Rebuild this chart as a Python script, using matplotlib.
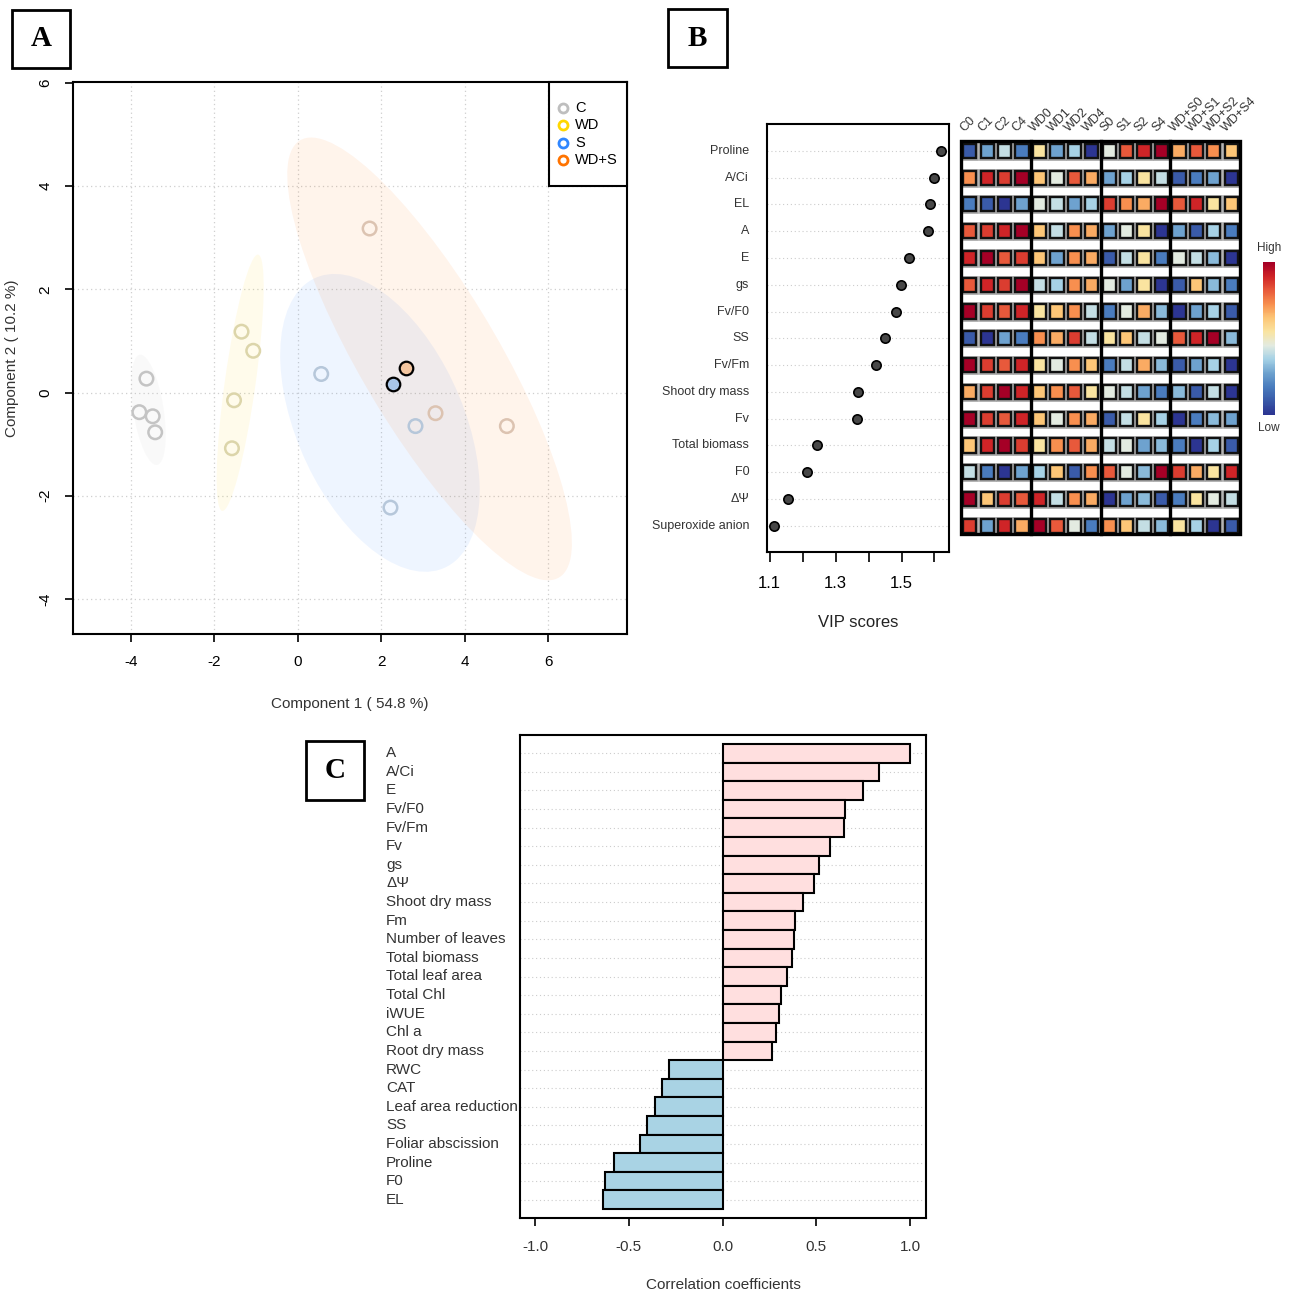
import numpy as np
import matplotlib
matplotlib.use("Agg")
import matplotlib.pyplot as plt
from matplotlib.patches import Rectangle, Ellipse
from matplotlib.lines import Line2D
from matplotlib.colors import LinearSegmentedColormap, Normalize
import matplotlib.patheffects as pe

plt.rcParams['font.family'] = ['Liberation Sans', 'DejaVu Sans']
plt.rcParams['axes.unicode_minus'] = False

# ---------------- DATA ----------------
# Panel A: PLS-DA scores
groups = ['C', 'WD', 'S', 'WD+S']
group_colors = ['#bebebe', '#ffd700', '#2f86ff', '#ff7300']
point_colors = ['#c4c4c4', '#dcd5aa', '#b6c7da', '#dcc3b1']
comp1 = {
    'C': [-3.63, -3.80, -3.48, -3.42],
    'WD': [-1.35, -1.07, -1.53, -1.58],
    'S': [0.56, 2.22, 2.27, 2.82],
    'WD+S': [1.72, 2.60, 3.30, 5.01],
}
comp2 = {
    'C': [0.27, -0.38, -0.46, -0.77],
    'WD': [1.18, 0.81, -0.15, -1.08],
    'S': [0.36, -2.23, 0.17, -0.65],
    'WD+S': [3.18, 0.48, -0.40, -0.65],
}
highlight_idx = {'S': 2, 'WD+S': 1}
highlight_fill = {'S': '#a9c6e8', 'WD+S': '#f4c6a0'}

# Panel B: VIP scores and heatmap
vip_vars = ['Proline', 'A/Ci', 'EL', 'A', 'E', 'gs', 'Fv/F0', 'SS', 'Fv/Fm',
            'Shoot dry mass', 'Fv', 'Total biomass', 'F0', 'ΔΨ', 'Superoxide anion']
vip_scores = [1.621, 1.599, 1.586, 1.579, 1.524, 1.497, 1.483, 1.451, 1.424,
              1.369, 1.365, 1.243, 1.214, 1.155, 1.113]
heat_cols = ['C0', 'C1', 'C2', 'C4', 'WD0', 'WD1', 'WD2', 'WD4',
             'S0', 'S1', 'S2', 'S4', 'WD+S0', 'WD+S1', 'WD+S2', 'WD+S4']
heat_values = [
    [1, 3, 4.5, 2, 6, 3, 4, 0, 5, 9, 10, 11, 7.5, 9, 8, 7],
    [8, 10, 9.5, 11, 7, 5, 9, 7.5, 3, 4, 6, 4.5, 1, 2, 3, 0],
    [2, 1, 0, 3, 5, 4.5, 3, 4, 9.5, 8, 7.5, 11, 9, 10, 6, 7],
    [9, 9.5, 10, 11, 7, 4.5, 8, 7.5, 3, 5, 6, 0, 3, 1, 4, 2],
    [10, 11, 9, 9.5, 7, 3, 8, 7.5, 1, 4.5, 6, 2, 5, 4.5, 3.5, 0],
    [9, 10, 9.5, 11, 4.5, 4, 8, 7.5, 5, 3, 6, 0, 1, 7, 3.5, 2],
    [11, 9.5, 9, 10, 6, 7, 8, 4.5, 2, 5, 7.5, 3.5, 0, 3, 4, 1],
    [1, 0, 3, 2, 8, 7.5, 9.5, 4.5, 6, 7, 4.5, 5, 9, 10, 11, 3.5],
    [11, 9.5, 9, 10, 6, 5, 8, 7, 2, 4.5, 7.5, 3.5, 1, 3, 4, 0],
    [7.5, 9.5, 11, 10, 7, 8, 9, 6, 5, 4.5, 3, 2, 3.5, 1, 4.5, 0],
    [11, 9.5, 9, 10, 7, 5, 8, 7.5, 1, 4.5, 6, 4, 0, 2, 3.5, 3],
    [7, 10, 11, 9.5, 6, 8, 9, 7.5, 4.5, 5, 3, 3.5, 2, 0, 4, 1],
    [4.5, 2, 0, 3, 4, 7, 1, 8, 9, 5, 3.5, 11, 9.5, 7.5, 6, 10],
    [11, 7, 9.5, 9, 10, 4.5, 8, 7.5, 0, 3, 3.5, 1, 2, 6, 5, 4.5],
    [9.5, 3, 10, 7.5, 11, 9, 5, 2, 8, 7, 4.5, 3.5, 6, 4, 0, 1],
]
heat_palette = ['#2c3592', '#3a5ba9', '#4a7dbe', '#6fa3cf', '#a6d2e6', '#e3ebe1',
                '#fae4a0', '#fdc677', '#f8904f', '#e85a3b', '#cf2427', '#a50026']

# Panel C: correlation coefficients
corr_vars = ['A', 'A/Ci', 'E', 'Fv/F0', 'Fv/Fm', 'Fv', 'gs', 'ΔΨ', 'Shoot dry mass',
             'Fm', 'Number of leaves', 'Total biomass', 'Total leaf area', 'Total Chl',
             'iWUE', 'Chl a', 'Root dry mass', 'RWC', 'CAT', 'Leaf area reduction',
             'SS', 'Foliar abscission', 'Proline', 'F0', 'EL']
corr_vals = [1.0, 0.834, 0.748, 0.652, 0.647, 0.572, 0.514, 0.488, 0.428,
             0.388, 0.379, 0.373, 0.343, 0.311, 0.300, 0.284, 0.262, -0.283,
             -0.322, -0.359, -0.404, -0.439, -0.58, -0.628, -0.637]

# ---------------- FIGURE ----------------
W, H = 1292, 1290
fig = plt.figure(figsize=(W / 100, H / 100), dpi=100)


def rect(x0, y0, x1, y1):
    return [x0 / W, 1 - y1 / H, (x1 - x0) / W, (y1 - y0) / H]


def panel_label(x0, y0, x1, y1, letter):
    fig.add_artist(Rectangle((x0 / W, 1 - y1 / H), (x1 - x0) / W, (y1 - y0) / H,
                             transform=fig.transFigure, fill=False, ec='black', lw=2))
    fig.text((x0 + x1) / 2 / W, 1 - (y0 + y1) / 2 / H, letter, ha='center', va='center',
             fontsize=21, fontweight='bold', family='Liberation Serif')


panel_label(12, 10, 70, 68, 'A')
panel_label(668, 9, 727, 67, 'B')
panel_label(306, 741, 364, 800, 'C')

# ---------------- Panel A ----------------
axA = fig.add_axes(rect(73, 82, 627, 634))
axA.set_xlim(-5.39, 7.89)
axA.set_ylim(-4.68, 6.02)
for v in [-4, -2, 0, 2, 4, 6]:
    axA.axvline(v, color='#cfcfcf', ls=(0, (1, 2.5)), lw=0.9, zorder=0)
for v in [-4, -2, 0, 2, 4]:
    axA.axhline(v, color='#cfcfcf', ls=(0, (1, 2.5)), lw=0.9, zorder=0)

chi2_95 = 5.991
for g, gc in zip(groups, group_colors):
    x = np.array(comp1[g]); y = np.array(comp2[g])
    cov = np.cov(x, y)
    vals, vecs = np.linalg.eigh(cov)
    order = vals.argsort()[::-1]
    vals, vecs = vals[order], vecs[:, order]
    ang = np.degrees(np.arctan2(vecs[1, 0], vecs[0, 0]))
    w_, h_ = 2 * np.sqrt(vals * chi2_95)
    axA.add_patch(Ellipse((x.mean(), y.mean()), w_, h_, angle=ang,
                          facecolor=gc, alpha=0.08, edgecolor='none', zorder=1))

for g, pc in zip(groups, point_colors):
    x = np.array(comp1[g]); y = np.array(comp2[g])
    mask = np.ones(len(x), bool)
    if g in highlight_idx:
        mask[highlight_idx[g]] = False
    axA.scatter(x[mask], y[mask], s=95, facecolors='none', edgecolors=pc, linewidths=1.8, zorder=3)
    if g in highlight_idx:
        i = highlight_idx[g]
        axA.scatter([x[i]], [y[i]], s=95, facecolors=highlight_fill[g], edgecolors='black',
                    linewidths=1.6, zorder=4)

axA.set_xticks([-4, -2, 0, 2, 4, 6])
axA.set_yticks([-4, -2, 0, 2, 4, 6])
axA.tick_params(direction='out', length=6, width=1.2, labelsize=11, pad=9, colors='black')
for lab in axA.get_yticklabels():
    lab.set_rotation(90)
    lab.set_va('center')
for s in axA.spines.values():
    s.set_linewidth(1.5)
axA.set_xlabel('Component 1 ( 54.8 %)', fontsize=11, color='#333333', labelpad=20)
axA.set_ylabel('Component 2 ( 10.2 %)', fontsize=11, color='#333333', labelpad=14)

# legend (manual)
fig.add_artist(Rectangle((549 / W, 1 - 186 / H), 78 / W, 104 / H, transform=fig.transFigure,
                         fill=True, fc='white', ec='black', lw=1.5, zorder=5))
for k, (g, gc) in enumerate(zip(groups, group_colors)):
    yy = 108 + 17.4 * k
    fig.add_artist(Line2D([563 / W], [1 - yy / H], marker='o', ms=6.5, mfc='none', mec=gc,
                          mew=2, transform=fig.transFigure, zorder=6))
    fig.text(575 / W, 1 - yy / H, g, fontsize=10.5, va='center', ha='left', zorder=6)

# ---------------- Panel B: dot plot ----------------
axB = fig.add_axes(rect(767, 123.5, 949, 551.5))
n = len(vip_vars)
ypos = np.arange(n)
axB.set_ylim(14.96, -1.02)
axB.set_xlim(1.092, 1.644)
for yv in ypos:
    axB.axhline(yv, color='#cccccc', ls=(0, (1, 2.5)), lw=0.8, zorder=0)
axB.scatter(vip_scores, ypos, s=45, facecolor='#474747', edgecolor='black', linewidths=1.2, zorder=3)
axB.set_yticks([])
xt = [1.1, 1.2, 1.3, 1.4, 1.5, 1.6]
axB.set_xticks(xt)
axB.set_xticklabels(['1.1', '', '1.3', '', '1.5', ''])
axB.tick_params(axis='x', direction='out', length=7, width=1.2, labelsize=12, pad=11)
for s in axB.spines.values():
    s.set_linewidth(1.5)
axB.set_xlabel('VIP scores', fontsize=12, color='#222222', labelpad=17)
for yv, name in zip(ypos, vip_vars):
    axB.text(-0.098, yv, name, transform=axB.get_yaxis_transform(), ha='right', va='center',
             fontsize=9, color='#333333')

# ---------------- Panel B: heatmap ----------------
axH = fig.add_axes(rect(961, 123.5, 1240, 551.5))
axH.set_xlim(0, 16)
axH.set_ylim(14.96, -1.02)
axH.axis('off')
cmap = LinearSegmentedColormap.from_list('rdylbu_custom', heat_palette)
norm = Normalize(0, 11)
halo = [pe.withStroke(linewidth=3.4, foreground='#a8a8a8')]
for r, row in enumerate(heat_values):
    for c, v in enumerate(row):
        p = Rectangle((c + 0.12, r - 0.265), 0.76, 0.53, facecolor=cmap(norm(v)),
                      edgecolor='#111111', lw=1.7, zorder=2)
        p.set_path_effects(halo)
        axH.add_patch(p)
axH.add_patch(Rectangle((0, -0.35), 16, 14.65, fill=False, ec='black', lw=2.4, zorder=4, clip_on=False))
for xv in [4, 8, 12]:
    axH.plot([xv, xv], [-0.35, 14.3], color='black', lw=2.4, zorder=4, clip_on=False)
for c, name in enumerate(heat_cols):
    axH.text(c + 0.2, -0.72, name, rotation=45, rotation_mode='anchor', ha='left', va='baseline',
             fontsize=9, color='#333333', clip_on=False)

# colorbar
axC = fig.add_axes(rect(1263, 262, 1275, 415))
grad = np.linspace(11, 0, 120).reshape(-1, 1)
axC.imshow(grad, aspect='auto', cmap=cmap, norm=norm)
axC.axis('off')
fig.text(1269 / W, 1 - 248 / H, 'High', ha='center', va='center', fontsize=8.5, color='#333333')
fig.text(1269 / W, 1 - 428 / H, 'Low', ha='center', va='center', fontsize=8.5, color='#333333')

# ---------------- Panel C ----------------
axD = fig.add_axes(rect(520, 735, 926, 1218))
m = len(corr_vars)
yb = np.arange(m)
axD.set_ylim(m - 0.02, -0.98)
axD.set_xlim(-1.08, 1.0853)
for yv in yb:
    axD.axhline(yv, color='#cccccc', ls=(0, (1, 2.5)), lw=0.8, zorder=0)
bar_colors = ['#ffdfdf' if v > 0 else '#a9d3e4' for v in corr_vals]
axD.barh(yb, corr_vals, height=1.0, color=bar_colors, edgecolor='black', linewidth=1.5, zorder=2)
axD.set_yticks([])
axD.set_xticks([-1.0, -0.5, 0.0, 0.5, 1.0])
axD.set_xticklabels(['-1.0', '-0.5', '0.0', '0.5', '1.0'])
axD.tick_params(axis='x', direction='out', length=6, width=1.2, labelsize=11, pad=10,
                labelcolor='#333333')
for s in axD.spines.values():
    s.set_linewidth(1.5)
axD.set_xlabel('Correlation coefficients', fontsize=11, color='#333333', labelpad=17)
for yv, name in zip(yb, corr_vars):
    axD.text(-0.330, yv, name, transform=axD.get_yaxis_transform(), ha='left', va='center',
             fontsize=11, color='#333333')

fig.savefig('out.png', dpi=100, facecolor='white')
